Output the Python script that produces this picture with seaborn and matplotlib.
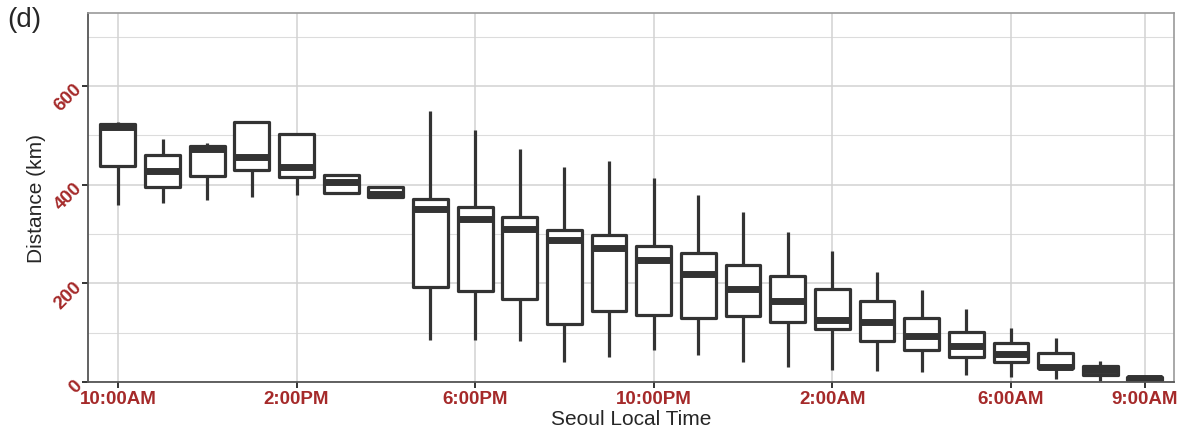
import numpy as np
import pandas as pd
import matplotlib
matplotlib.use("Agg")
import matplotlib.pyplot as plt
import seaborn as sns

################ DATA (five-number summaries) ################

hours = ['10:00AM', '11:00AM', '12:00PM', '1:00PM', '2:00PM', '3:00PM', '4:00PM',
         '5:00PM', '6:00PM', '7:00PM', '8:00PM', '9:00PM', '10:00PM', '11:00PM',
         '12:00AM', '1:00AM', '2:00AM', '3:00AM', '4:00AM', '5:00AM', '6:00AM',
         '7:00AM', '8:00AM', '9:00AM']

dist_min = [359, 363, 369, 375, 380, 382, 376, 86, 86, 84, 40, 51, 65, 55,
            41, 30, 24, 23, 20, 15, 10, 6, 3, 2]
dist_q1 = [438, 395, 418, 430, 415, 383, 376, 192, 185, 168, 118, 144, 136, 130,
           133, 122, 107, 84, 65, 51, 41, 28, 14, 5]
dist_med = [517, 428, 472, 457, 435, 405, 382, 351, 330, 310, 288, 272, 247, 219,
            188, 165, 126, 122, 93, 74, 57, 31, 24, 8]
dist_q3 = [523, 461, 479, 527, 502, 420, 396, 371, 354, 335, 309, 298, 275, 261,
           238, 214, 188, 164, 130, 102, 80, 59, 33, 11]
dist_max = [527, 492, 485, 528, 503, 421, 397, 550, 511, 472, 436, 447, 413, 380,
            344, 305, 265, 224, 186, 148, 109, 89, 42, 13]

tick_hours = ['10:00AM', '2:00PM', '6:00PM', '10:00PM', '2:00AM', '6:00AM', '9:00AM']

# long format: each box gets its own 5 values, whiskers drawn to min / max
rows = []
for i, h in enumerate(hours):
    for v in (dist_min[i], dist_q1[i], dist_med[i], dist_q3[i], dist_max[i]):
        rows.append({'time': h, 'distance': v})
df = pd.DataFrame(rows)

################ PLOT ################

sns.set_theme(style="white")
plt.rcParams['font.family'] = ['Liberation Sans', 'DejaVu Sans']

line_col = '#333333'
label_col = '#A52A2A'

fig = plt.figure(figsize=(11.84, 4.35), dpi=100)
ax = fig.add_axes([0.0743, 0.1195, 0.9172, 0.8483])

ax.set_axisbelow(True)
for y in [100, 300, 500, 700]:
    ax.axhline(y, color='#dcdcdc', lw=0.8, zorder=0)
for y in [0, 200, 400, 600]:
    ax.axhline(y, color='#d2d2d2', lw=1.1, zorder=0)
for h in tick_hours:
    ax.axvline(hours.index(h), color='#d2d2d2', lw=1.1, zorder=0)

sns.boxplot(
    data=df, x='time', y='distance', order=hours, ax=ax,
    whis=(0, 100), width=0.78, color='white', linecolor=line_col,
    linewidth=2.3, showcaps=False, showfliers=False,
    medianprops={'linewidth': 5.0, 'color': line_col, 'solid_capstyle': 'butt'},
    boxprops={'joinstyle': 'round'},
)

ax.set_xlim(-0.67, 23.65)
ax.set_ylim(0, 748)

ax.set_xticks([hours.index(h) for h in tick_hours])
ax.set_xticklabels(tick_hours, fontsize=13.5, fontweight='bold', color=label_col)
ax.set_yticks([0, 200, 400, 600])
ax.set_yticklabels(['0', '200', '400', '600'], fontsize=13.5, fontweight='bold',
                   color=label_col, rotation=45, ha='right', va='center',
                   rotation_mode='anchor')
ax.tick_params(axis='both', length=4, width=1.4, color=line_col, pad=2,
               bottom=True, left=True)

ax.set_xlabel("Seoul Local Time", fontsize=15, labelpad=1)
ax.set_ylabel("Distance (km)", fontsize=15, labelpad=4)

for side in ['top', 'right']:
    ax.spines[side].set_color('#9a9a9a')
    ax.spines[side].set_linewidth(1.2)
for side in ['left', 'bottom']:
    ax.spines[side].set_color('#555555')
    ax.spines[side].set_linewidth(1.3)

fig.text(0.006, 0.985, "(d)", fontsize=20, ha='left', va='top')

fig.savefig("out.png", dpi=100)
